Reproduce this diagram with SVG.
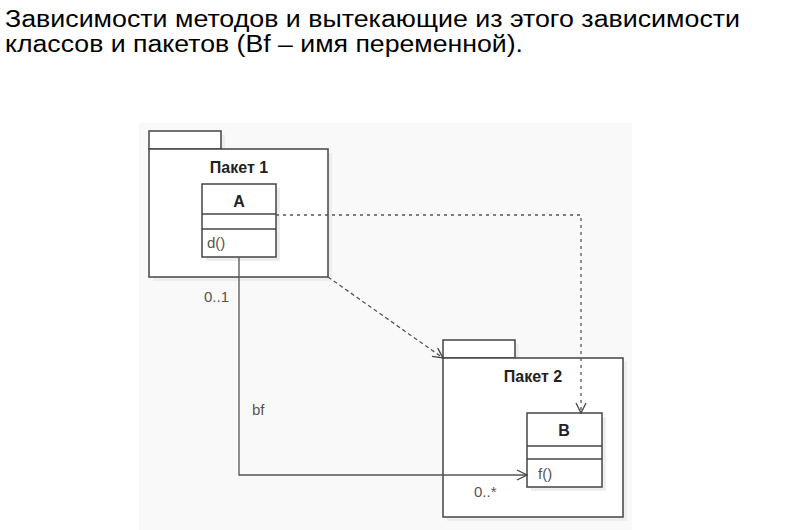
<svg xmlns="http://www.w3.org/2000/svg" width="805" height="530" viewBox="0 0 805 530">
<defs>
<marker id="open" viewBox="0 0 12 12" refX="11" refY="6" markerWidth="12" markerHeight="12" markerUnits="userSpaceOnUse" orient="auto">
<path d="M1,1 L11,6 L1,11" fill="none" stroke="#444" stroke-width="1.3"/>
</marker>
</defs>
<style>
.title{font-family:"Liberation Sans",Arial,sans-serif;font-size:23px;fill:#000}
.box{fill:#fff;stroke:#444;stroke-width:1.5}
.sh{fill:#eeeeee}
.lbl{font-family:"Liberation Sans",Arial,sans-serif;font-size:16px;fill:#222}
.b{font-weight:bold;text-anchor:middle}
.m{font-family:"Liberation Sans",Arial,sans-serif;font-size:15px;fill:#555}
.c{fill:none;stroke:#555;stroke-width:1.3}
</style>
<rect width="805" height="530" fill="#fff"/>
<text class="title" x="5" y="27" textLength="735" lengthAdjust="spacingAndGlyphs">Зависимости методов и вытекающие из этого зависимости</text>
<text class="title" x="5" y="52" textLength="518" lengthAdjust="spacingAndGlyphs">классов и пакетов (Bf – имя переменной).</text>
<rect x="139" y="123" width="493" height="407" fill="#f9f9f9"/>
<g id="pkg1">
<rect class="sh" x="153" y="135" width="72" height="18"/>
<rect class="sh" x="153" y="153" width="179" height="128"/>
<rect class="box" x="149" y="131" width="72" height="18"/>
<rect class="box" x="149" y="149" width="179" height="128"/>
<text class="lbl b" x="239" y="173">Пакет 1</text>
</g>
<g id="classA">
<rect class="sh" x="206" y="188" width="74" height="73"/>
<rect class="box" x="202" y="184" width="74" height="73"/>
<line class="box" x1="202" y1="214" x2="276" y2="214"/>
<line class="box" x1="202" y1="229" x2="276" y2="229"/>
<text class="lbl b" x="239" y="207">A</text>
<text class="m" x="207" y="248">d()</text>
</g>
<g id="pkg2">
<rect class="sh" x="447" y="344" width="72" height="18"/>
<rect class="sh" x="447" y="362" width="180" height="159"/>
<rect class="box" x="443" y="340" width="72" height="18"/>
<rect class="box" x="443" y="358" width="180" height="159"/>
<text class="lbl b" x="533" y="382">Пакет 2</text>
</g>
<g id="classB">
<rect class="sh" x="531" y="417" width="75" height="74"/>
<rect class="box" x="527" y="413" width="75" height="74"/>
<line class="box" x1="527" y1="446" x2="602" y2="446"/>
<line class="box" x1="527" y1="459" x2="602" y2="459"/>
<text class="lbl b" x="564" y="436">B</text>
<text class="m" x="538" y="479">f()</text>
</g>
<g id="connectors">
<polyline class="c" points="276,215 581,215 581,413" stroke-dasharray="3,4" stroke="#777" marker-end="url(#open)"/>
<line class="c" x1="328" y1="277" x2="443" y2="358" stroke-dasharray="4,3" marker-end="url(#open)"/>
<polyline class="c" points="239,257 239,475 527,475" marker-end="url(#open)"/>
<text class="m" x="229" y="302" text-anchor="end">0..1</text>
<text class="m" x="252" y="415">bf</text>
<text class="m" x="474" y="497">0..*</text>
</g>
</svg>
